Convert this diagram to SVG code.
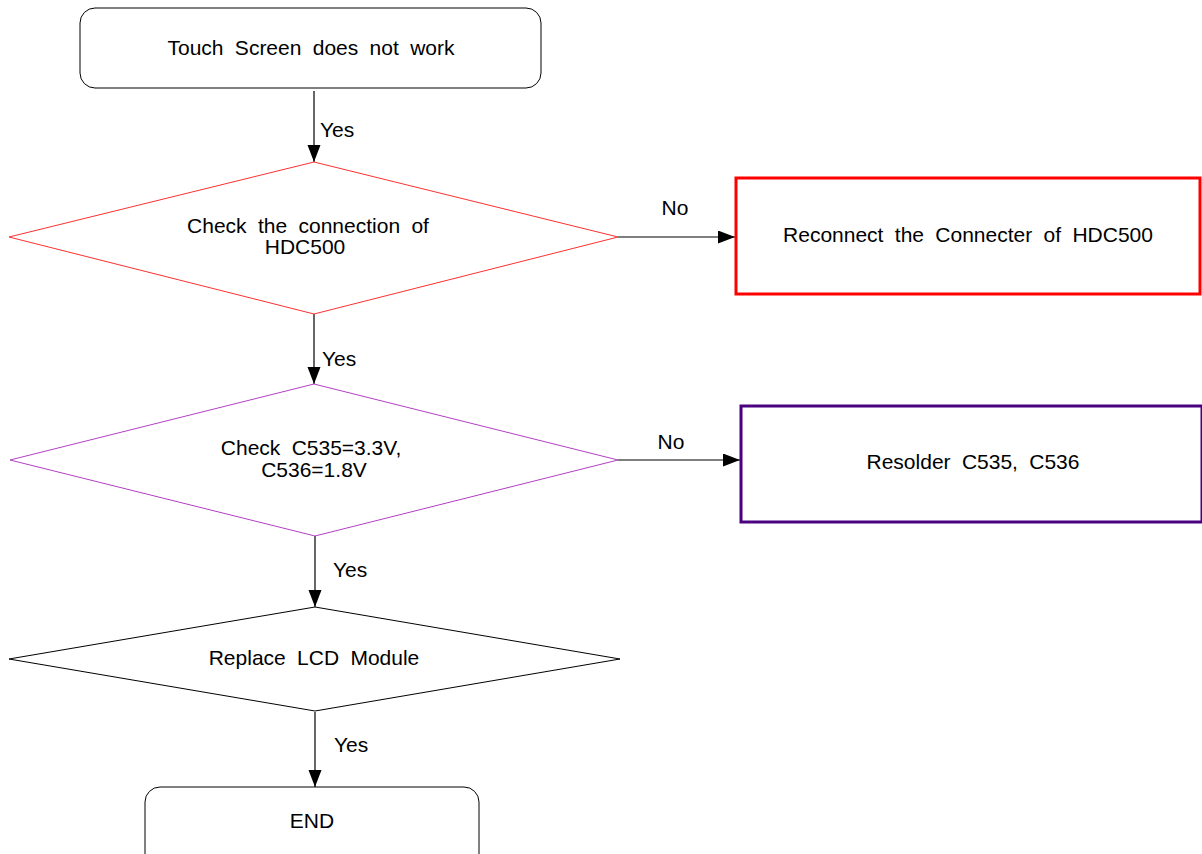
<svg xmlns="http://www.w3.org/2000/svg" width="1202" height="854" viewBox="0 0 1202 854">
<defs>
<style>
text{font-family:"Liberation Sans",Arial,sans-serif;font-size:21px;fill:#000;word-spacing:5.5px}
.c{text-anchor:middle}
.ln{stroke:#000;stroke-width:1.2;fill:none}
.rb{fill:#fff;stroke:#000;stroke-width:1}
</style>
<marker id="ah" markerUnits="userSpaceOnUse" markerWidth="18" markerHeight="14" refX="17" refY="6.5" orient="auto">
<path d="M0,0 L17,6.5 L0,13 Z" fill="#000"/>
</marker>
</defs>
<rect width="1202" height="854" fill="#fff"/>
<g id="connectors">
<line class="ln" x1="314" y1="91" x2="314" y2="162" marker-end="url(#ah)"/>
<text x="320" y="137">Yes</text>
<line class="ln" x1="618" y1="237" x2="735" y2="237" marker-end="url(#ah)"/>
<text class="c" x="675" y="215">No</text>
<line class="ln" x1="314" y1="314" x2="314" y2="384" marker-end="url(#ah)"/>
<text x="322" y="366">Yes</text>
<line class="ln" x1="618" y1="460" x2="740" y2="460" marker-end="url(#ah)"/>
<text class="c" x="671" y="449">No</text>
<line class="ln" x1="315" y1="536" x2="315" y2="607" marker-end="url(#ah)"/>
<text x="333" y="577">Yes</text>
<line class="ln" x1="315" y1="712" x2="315" y2="787" marker-end="url(#ah)"/>
<text x="334" y="752">Yes</text>
</g>
<g id="start">
<rect class="rb" x="80" y="8" width="461" height="80" rx="15" ry="15"/>
<text class="c" x="311" y="55">Touch Screen does not work</text>
</g>
<g id="check-connection">
<polygon points="314,162 618,237 314,314 9,237" fill="none" stroke="#ff3030" stroke-width="1"/>
<text class="c" x="308" y="233">Check the connection of</text>
<text class="c" x="305" y="254">HDC500</text>
</g>
<g id="reconnect">
<rect x="736" y="178" width="464" height="116" fill="#fff" stroke="#ff0000" stroke-width="3"/>
<text class="c" x="968" y="242">Reconnect the Connecter of HDC500</text>
</g>
<g id="check-voltage">
<polygon points="314,384 618,460 315,536 10,460" fill="none" stroke="#b040c0" stroke-width="1"/>
<text class="c" x="311" y="455">Check C535=3.3V,</text>
<text class="c" x="314" y="477">C536=1.8V</text>
</g>
<g id="resolder">
<rect x="741" y="406" width="461" height="116" fill="#fff" stroke="#4b0082" stroke-width="3"/>
<text class="c" x="973" y="469">Resolder C535, C536</text>
</g>
<g id="replace-lcd">
<polygon points="315,607 620,659 315,711 9,659" fill="none" stroke="#000" stroke-width="1"/>
<text class="c" x="314" y="665">Replace LCD Module</text>
</g>
<g id="end">
<rect class="rb" x="145" y="787" width="334" height="90" rx="15" ry="15"/>
<text class="c" x="312" y="828">END</text>
</g>
</svg>
